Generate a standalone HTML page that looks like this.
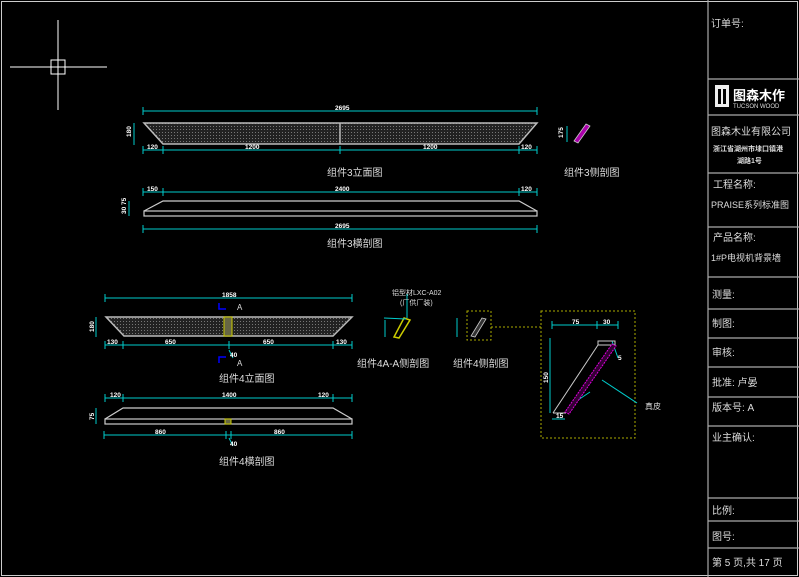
<!DOCTYPE html>
<html><head><meta charset="utf-8"><style>
body{margin:0;background:#000;}
svg{display:block}
text{font-family:"Liberation Sans","Noto Sans CJK SC",sans-serif;}
</style></head><body>
<svg width="799" height="577" viewBox="0 0 799 577" xmlns="http://www.w3.org/2000/svg">
<rect x="0" y="0" width="799" height="577" fill="#000"/>
<rect x="1.5" y="1.5" width="796" height="574" fill="none" stroke="#ccc" stroke-width="1"/>
<!-- crosshair -->
<g stroke="#fff" stroke-width="1" fill="none">
<line x1="58" y1="20" x2="58" y2="110"/><line x1="10" y1="67" x2="107" y2="67"/>
<rect x="51" y="60" width="14" height="14"/>
</g>
<!-- right panel -->
<g stroke="#aaa" stroke-width="1.2">
<line x1="708" y1="0" x2="708" y2="577"/>
<line x1="708" y1="79" x2="799" y2="79"/><line x1="708" y1="115" x2="799" y2="115"/>
<line x1="708" y1="173" x2="799" y2="173"/><line x1="708" y1="227" x2="799" y2="227"/>
<line x1="708" y1="277" x2="799" y2="277"/><line x1="708" y1="309" x2="799" y2="309"/>
<line x1="708" y1="338" x2="799" y2="338"/><line x1="708" y1="367" x2="799" y2="367"/>
<line x1="708" y1="397" x2="799" y2="397"/><line x1="708" y1="426" x2="799" y2="426"/>
<line x1="708" y1="498" x2="799" y2="498"/><line x1="708" y1="521" x2="799" y2="521"/>
<line x1="708" y1="548" x2="799" y2="548"/>
</g>
<g fill="#ddd" font-size="10">
<text x="711" y="27">订单号:</text>
<rect x="715" y="85" width="14" height="22" fill="#eee"/>
<rect x="718" y="89" width="3" height="15" fill="#000"/><rect x="723" y="89" width="3" height="15" fill="#000"/>
<text x="733" y="100" font-size="13" font-weight="bold" fill="#fff">图森木作</text>
<text x="733" y="108" font-size="6">TUCSON WOOD</text>
<text x="711" y="135">图森木业有限公司</text>
<text x="713" y="151" font-size="7" font-weight="bold">浙江省湖州市埭口镇港</text>
<text x="737" y="163" font-size="7" font-weight="bold">湖路1号</text>
<text x="713" y="188">工程名称:</text>
<text x="711" y="208" font-size="9">PRAISE系列标准图</text>
<text x="713" y="241">产品名称:</text>
<text x="711" y="261" font-size="9">1#P电视机背景墙</text>
<text x="712" y="298">测量:</text>
<text x="712" y="327">制图:</text>
<text x="712" y="356">审核:</text>
<text x="712" y="386">批准: 卢晏</text>
<text x="712" y="411">版本号:  A</text>
<text x="712" y="441">业主确认:</text>
<text x="712" y="514">比例:</text>
<text x="712" y="540">图号:</text>
<text x="712" y="566">第 5 页,共 17 页</text>
</g>
<defs><pattern id="mesh" width="3" height="3" patternUnits="userSpaceOnUse"><rect width="3" height="3" fill="#222"/><rect width="1" height="1" fill="#777"/></pattern></defs>
<!-- component 3 elevation -->
<g stroke="#0cc" stroke-width="1" fill="none">
<line x1="143" y1="111" x2="537" y2="111"/><line x1="143" y1="107" x2="143" y2="115"/><line x1="537" y1="107" x2="537" y2="115"/>
<line x1="143" y1="150" x2="537" y2="150"/>
<line x1="143" y1="146" x2="143" y2="154"/><line x1="163" y1="146" x2="163" y2="154"/><line x1="340" y1="146" x2="340" y2="154"/><line x1="519" y1="146" x2="519" y2="154"/><line x1="537" y1="146" x2="537" y2="154"/>
<line x1="134" y1="123" x2="134" y2="145"/>
<line x1="143" y1="192" x2="537" y2="192"/><line x1="143" y1="188" x2="143" y2="196"/><line x1="163" y1="188" x2="163" y2="196"/><line x1="519" y1="188" x2="519" y2="196"/><line x1="537" y1="188" x2="537" y2="196"/>
<line x1="143" y1="229" x2="537" y2="229"/><line x1="143" y1="225" x2="143" y2="233"/><line x1="537" y1="225" x2="537" y2="233"/>
<line x1="129" y1="201" x2="129" y2="216"/>
</g>
<polygon points="144,123 537,123 519,144 163,144" fill="url(#mesh)" stroke="#bbb" stroke-width="1.5"/>
<line x1="340" y1="123" x2="340" y2="144" stroke="#bbb" stroke-width="1.5"/>
<g stroke="#ccc" stroke-width="1.2" fill="none">
<polyline points="144,211 163,201 519,201 537,211"/>
<rect x="144" y="211" width="393" height="5"/>
</g>
<polygon points="586,124 590,126 578,143 574,141" fill="#a0a" stroke="#ccc" stroke-width="0.8"/>
<line x1="567" y1="126" x2="567" y2="142" stroke="#0cc"/>
<g fill="#fff" font-size="6.5" font-weight="bold">
<text x="335" y="110">2695</text>
<text x="147" y="149">120</text><text x="245" y="149">1200</text><text x="423" y="149">1200</text><text x="521" y="149">120</text>
<text x="147" y="191">150</text><text x="335" y="191">2400</text><text x="521" y="191">120</text>
<text x="335" y="228">2695</text>
<text x="131" y="137" transform="rotate(-90 131 137)">180</text>
<text x="126" y="214" transform="rotate(-90 126 214)">30 75</text>
<text x="563" y="138" transform="rotate(-90 563 138)">175</text>
</g>
<g fill="#ddd" font-size="10">
<text x="327" y="176">组件3立面图</text>
<text x="327" y="247">组件3横剖图</text>
<text x="564" y="176">组件3侧剖图</text>
</g>
<!-- component 4 -->
<g stroke="#0cc" stroke-width="1" fill="none">
<line x1="105" y1="298" x2="352" y2="298"/><line x1="105" y1="294" x2="105" y2="302"/><line x1="352" y1="294" x2="352" y2="302"/>
<line x1="105" y1="345" x2="352" y2="345"/>
<line x1="105" y1="341" x2="105" y2="349"/><line x1="123" y1="341" x2="123" y2="349"/><line x1="229" y1="341" x2="229" y2="349"/><line x1="333" y1="341" x2="333" y2="349"/><line x1="352" y1="341" x2="352" y2="349"/>
<line x1="96" y1="317" x2="96" y2="337"/>
<line x1="105" y1="398" x2="352" y2="398"/><line x1="105" y1="394" x2="105" y2="402"/><line x1="123" y1="394" x2="123" y2="402"/><line x1="333" y1="394" x2="333" y2="402"/><line x1="352" y1="394" x2="352" y2="402"/>
<line x1="104" y1="435" x2="352" y2="435"/><line x1="104" y1="431" x2="104" y2="439"/><line x1="226" y1="431" x2="226" y2="439"/><line x1="231" y1="431" x2="231" y2="439"/><line x1="352" y1="431" x2="352" y2="439"/>
<line x1="96" y1="408" x2="96" y2="424"/>
<line x1="229" y1="350" x2="233" y2="358"/><line x1="229" y1="438" x2="233" y2="446"/>
</g>
<polyline points="219,303 219,309 226,309" stroke="#00f" stroke-width="1.5" fill="none"/>
<polyline points="219,363 219,357 226,357" stroke="#00f" stroke-width="1.5" fill="none"/>
<text x="237" y="310" fill="#ddd" font-size="8">A</text><text x="237" y="366" fill="#ddd" font-size="8">A</text>
<polygon points="106,317 352,317 333,336 124,336" fill="url(#mesh)" stroke="#bbb" stroke-width="1.5"/>
<rect x="224" y="317" width="8" height="19" fill="#664" stroke="#cc0" stroke-width="1"/>
<g stroke="#ccc" stroke-width="1.2" fill="none">
<polyline points="105,419 123,408 333,408 352,419"/>
<rect x="105" y="419" width="247" height="5"/>
</g>
<rect x="225" y="419" width="6" height="5" fill="#664" stroke="#cc0"/>
<g fill="#fff" font-size="6.5" font-weight="bold">
<text x="222" y="297">1858</text>
<text x="107" y="344">130</text><text x="165" y="344">650</text><text x="263" y="344">650</text><text x="336" y="344">130</text>
<text x="230" y="357">40</text>
<text x="110" y="397">120</text><text x="222" y="397">1400</text><text x="318" y="397">120</text>
<text x="155" y="434">860</text><text x="274" y="434">860</text><text x="230" y="446">40</text>
<text x="94" y="332" transform="rotate(-90 94 332)">180</text>
<text x="94" y="420" transform="rotate(-90 94 420)">75</text>
</g>
<g fill="#ddd" font-size="10">
<text x="219" y="382">组件4立面图</text>
<text x="219" y="465">组件4横剖图</text>
<text x="357" y="367">组件4A-A侧剖图</text>
<text x="453" y="367">组件4侧剖图</text>
</g>
<!-- A-A section -->
<polygon points="404,318 410,320 399,338 394,337" fill="none" stroke="#cc0" stroke-width="1.5"/>
<polyline points="406,319 384,318" stroke="#0cc" fill="none"/>
<line x1="407" y1="318" x2="407" y2="294" stroke="#0cc"/>
<line x1="385" y1="320" x2="385" y2="337" stroke="#0cc"/>
<g fill="#ddd" font-size="7"><text x="392" y="295">铝型材LXC-A02</text><text x="400" y="305">(厂供厂装)</text></g>
<!-- side 4 -->
<rect x="467" y="311" width="24" height="29" fill="none" stroke="#aa0" stroke-dasharray="2,2"/>
<polygon points="482,318 486,319 475,337 471,336" fill="#333" stroke="#ccc" stroke-width="0.8"/>
<line x1="457" y1="318" x2="457" y2="337" stroke="#0cc"/>
<line x1="491" y1="327" x2="541" y2="327" stroke="#aa0" stroke-dasharray="2,2"/>
<!-- detail -->
<rect x="541" y="311" width="94" height="127" fill="none" stroke="#aa0" stroke-dasharray="2,2"/>
<g stroke="#0cc" stroke-width="1" fill="none">
<line x1="552" y1="325" x2="618" y2="325"/><line x1="552" y1="321" x2="552" y2="329"/><line x1="597" y1="321" x2="597" y2="329"/><line x1="618" y1="321" x2="618" y2="329"/>
<line x1="550" y1="338" x2="550" y2="413"/>
<line x1="552" y1="419" x2="565" y2="419"/>
<line x1="602" y1="380" x2="637" y2="403"/>
<line x1="612" y1="341" x2="618" y2="358"/>
<line x1="578" y1="400" x2="590" y2="392"/>
</g>
<polygon points="598,341 615,341 615,345 598,345" fill="none" stroke="#ccc"/>
<line x1="598" y1="345" x2="553" y2="413" stroke="#ccc"/>
<line x1="553" y1="413" x2="566" y2="413" stroke="#ccc"/>
<polygon points="612,344 616,346 569,414 565,412" fill="#303" stroke="#d0d" stroke-dasharray="2,1"/>
<g fill="#fff" font-size="6.5" font-weight="bold">
<text x="572" y="324">75</text><text x="603" y="324">30</text>
<text x="548" y="383" transform="rotate(-90 548 383)">150</text>
<text x="556" y="418">15</text><text x="618" y="360">5</text>
</g>
<text x="645" y="409" fill="#ddd" font-size="8">真皮</text>
</svg>
</body></html>
